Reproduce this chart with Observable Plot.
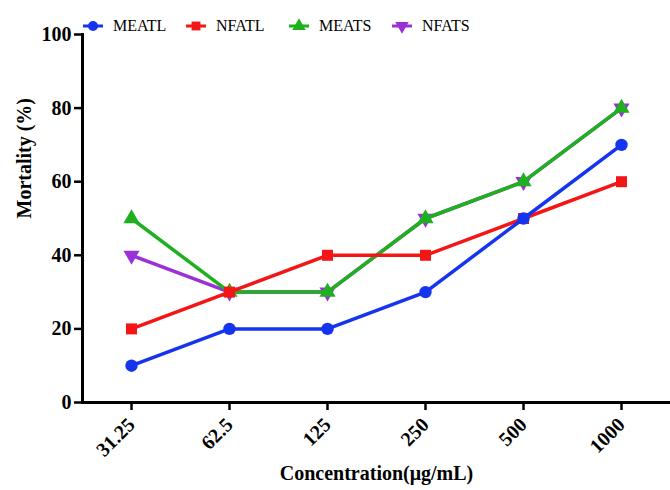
<!DOCTYPE html>
<html>
<head>
<meta charset="utf-8">
<script src="https://cdn.jsdelivr.net/npm/d3@7"></script>
<script src="https://cdn.jsdelivr.net/npm/@observablehq/plot@0.6"></script>
<style>
  html, body { margin: 0; padding: 0; background: #fff; }
  #chart { position: relative; width: 670px; height: 490px; }
  #legend { position: absolute; top: 17px; left: 83px; display: flex; }
  .item { display: flex; align-items: center; width: 103px; font-size: 16px; color: #000; }
  .item svg { margin-right: 10px; }
</style>
</head>
<body>
<div id="chart" style="font-family:'Liberation Serif', serif"><div id="legend"></div></div>
<script>
// Concentrations tested (µg/mL) and mortality (%) for each extract
const concentrations = ["31.25", "62.5", "125", "250", "500", "1000"];
const MEATL = [10, 20, 20, 30, 50, 70];
const NFATL = [20, 30, 40, 40, 50, 60];
const MEATS = [50, 30, 30, 50, 60, 80];
const NFATS = [40, 30, 30, 50, 60, 80];

const yTicks = [0, 20, 40, 60, 80, 100];
const fontName = "Liberation Serif";

// downward-pointing triangle, mirror of d3.symbolTriangle
const triangleDown = {
  draw(context, size) {
    const s3 = Math.sqrt(3);
    const y = -Math.sqrt(size / (s3 * 3));
    context.moveTo(0, -y * 2);
    context.lineTo(-s3 * y, y);
    context.lineTo(s3 * y, y);
    context.closePath();
  }
};

// drawing order: later series sit on top
const series = [
  {name: "NFATS", values: NFATS, color: "#9b30d8", symbol: triangleDown, r: 6},
  {name: "MEATS", values: MEATS, color: "#1fb01f", symbol: "triangle", r: 6},
  {name: "NFATL", values: NFATL, color: "#f41616", symbol: "square", r: 6.2},
  {name: "MEATL", values: MEATL, color: "#1434f0", symbol: "circle", r: 6.2}
];
const legendOrder = ["MEATL", "NFATL", "MEATS", "NFATS"];

const rows = series.flatMap(s => concentrations.map((c, i) => ({series: s.name, conc: c, value: s.values[i]})));

const markLayers = series.flatMap(s => {
  const data = rows.filter(d => d.series === s.name);
  return [
    Plot.line(data, {x: "conc", y: "value", stroke: s.color, strokeWidth: 3.5}),
    Plot.dot(data, {x: "conc", y: "value", fill: s.color, stroke: "none", symbol: () => s.symbol, r: s.r})
  ];
});

const chart = Plot.plot({
  width: 670,
  height: 490,
  marginLeft: 82,
  marginRight: 0,
  marginTop: 34,
  marginBottom: 88,
  x: {type: "point", domain: concentrations, padding: 0.5},
  y: {domain: [0, 100]},
  marks: [
    Plot.axisY({ticks: yTicks, tickSize: 8, tickPadding: 3, strokeWidth: 2.5, fontSize: 20, fontWeight: "bold", fontFamily: fontName, label: null}),
    Plot.axisX({tickSize: 8, tickPadding: 11, tickRotate: -45, strokeWidth: 2.5, fontSize: 20, fontWeight: "bold", fontFamily: fontName, label: null}),
    Plot.frame({anchor: "left", strokeWidth: 3}),
    Plot.ruleY([0], {strokeWidth: 3}),
    Plot.text(["Mortality (%)"], {frameAnchor: "left", rotate: -90, dx: -58, fontSize: 20, fontWeight: "bold", fontFamily: fontName, fill: "#000"}),
    Plot.text(["Concentration(μg/mL)"], {frameAnchor: "bottom", dy: 77, fontSize: 20, fontWeight: "bold", fontFamily: fontName, fill: "#000"}),
    ...markLayers
  ]
});
chart.setAttribute("font-family", fontName);
chart.style.overflow = "visible";
document.getElementById("chart").appendChild(chart);

// legend row above the plot
const legend = d3.select("#legend");
for (const name of legendOrder) {
  const s = series.find(d => d.name === name);
  const item = legend.append("div").attr("class", "item");
  const svg = item.append("svg").attr("width", 20).attr("height", 16);
  svg.append("line").attr("x1", 0).attr("x2", 20).attr("y1", 8).attr("y2", 8)
    .attr("stroke", s.color).attr("stroke-width", 3);
  const sym = typeof s.symbol === "string"
    ? {circle: d3.symbolCircle, square: d3.symbolSquare, triangle: d3.symbolTriangle}[s.symbol]
    : s.symbol;
  svg.append("path").attr("transform", "translate(10,8)")
    .attr("d", d3.symbol(sym, Math.PI * 5 * 5)()).attr("fill", s.color);
  item.append("span").style("font-family", "'Liberation Serif', serif").text(name);
}
</script>
</body>
</html>
